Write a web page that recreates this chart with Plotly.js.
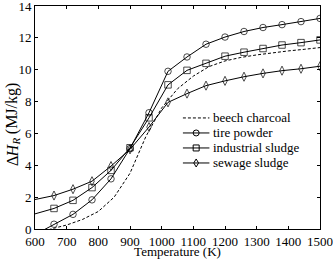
<!DOCTYPE html>
<html>
<head>
<meta charset="utf-8">
<script src="https://cdn.plot.ly/plotly-3.0.1.min.js"></script>
<style>html,body{margin:0;padding:0;background:#fff;}#chart{width:333px;height:259px;}</style>
</head>
<body>
<div id="chart"></div>
<script>
// Temperatures (K)
var tempBeech = [600, 650, 700, 750, 800, 850, 900, 950, 1000, 1050, 1100, 1150, 1200, 1250, 1300, 1350, 1400, 1450, 1500];
var beechCharcoal = [-0.45, 0.0, 0.25, 0.6, 1.1, 2.0, 3.5, 5.8, 7.6, 8.8, 9.6, 10.2, 10.55, 10.77, 10.93, 11.07, 11.18, 11.28, 11.39];

var tempMarked = [600, 660, 720, 780, 840, 900, 960, 1020, 1080, 1140, 1200, 1260, 1320, 1380, 1440, 1500];
var tirePowder = [-0.35, 0.3, 0.92, 1.83, 3.15, 5.05, 7.3, 9.9, 10.8, 11.6, 12.05, 12.4, 12.65, 12.83, 13.02, 13.22];
var industrialSludge = [0.95, 1.29, 1.8, 2.6, 3.68, 5.1, 6.98, 9.05, 9.96, 10.4, 10.85, 11.1, 11.33, 11.55, 11.7, 11.87];
var sewageSludge = [1.85, 2.1, 2.5, 3.0, 3.95, 5.0, 6.4, 7.95, 8.5, 9.0, 9.3, 9.56, 9.77, 9.94, 10.06, 10.22];

var seriesNames = ['beech charcoal', 'tire powder', 'industrial sludge', 'sewage sludge'];
var seriesSymbols = [null, 'circle', 'square', 'diamond'];
var xTicks = [600, 700, 800, 900, 1000, 1100, 1200, 1300, 1400, 1500];
var yTicks = [0, 2, 4, 6, 8, 10, 12, 14];

var FONT = 'Liberation Serif, Times New Roman, serif';
var FS = 13;

// no marker on the first (600 K) point
var markerSizes = tempMarked.map(function (t, i) { return i === 0 ? 0 : 6.5; });

function markedTrace(name, y, symbol) {
  return {
    x: tempMarked, y: y, name: name, type: 'scatter', mode: 'lines+markers',
    line: {color: '#000', width: 1},
    marker: {symbol: symbol, size: markerSizes, color: '#000', line: {color: '#000', width: 1}}
  };
}

var data = [
  {x: tempBeech, y: beechCharcoal, name: seriesNames[0], type: 'scatter', mode: 'lines',
   line: {color: '#000', width: 1, dash: '3px,2px'}},
  markedTrace(seriesNames[1], tirePowder, 'circle-open'),
  markedTrace(seriesNames[2], industrialSludge, 'square-open'),
  markedTrace(seriesNames[3], sewageSludge, 'diamond-tall-open')
];

// ---- hand-built legend (compact row spacing like the original) ----
var legX0 = 0.519, legX1 = 0.612, legMid = 0.5655, legText = 0.619;
var legTop = 0.498, legStep = 0.0673;
var shapes = [], annotations = [];
seriesNames.forEach(function (name, i) {
  var yy = legTop - i * legStep;
  shapes.push({type: 'line', xref: 'paper', yref: 'paper', x0: legX0, x1: legX1, y0: yy, y1: yy,
               line: {color: '#000', width: 1, dash: i === 0 ? '3px,2px' : 'solid'}});
  var sym = seriesSymbols[i];
  var base = {xref: 'paper', yref: 'paper', xsizemode: 'pixel', ysizemode: 'pixel',
              xanchor: legMid, yanchor: yy, line: {color: '#000', width: 1}, fillcolor: 'rgba(0,0,0,0)'};
  if (sym === 'circle') shapes.push(Object.assign({type: 'circle', x0: -3, x1: 3, y0: -3, y1: 3}, base));
  if (sym === 'square') shapes.push(Object.assign({type: 'rect', x0: -3, x1: 3, y0: -3, y1: 3}, base));
  if (sym === 'diamond') shapes.push(Object.assign({type: 'path', path: 'M0,4 L2.4,0 L0,-4 L-2.4,0 Z'}, base));
  annotations.push({xref: 'paper', yref: 'paper', x: legText, y: yy, xanchor: 'left', yanchor: 'middle',
                    text: name, showarrow: false, font: {family: FONT, size: FS, color: '#000'}});
});

// y-axis title "ΔH_R (MJ/kg)" built from rotated pieces (no markup tags)
var yTitleParts = [
  {text: 'Δ', y: 0.3045, x: -0.0807, size: 16, style: 'normal'},
  {text: 'H', y: 0.3525, x: -0.0807, size: 16, style: 'italic'},
  {text: 'R', y: 0.3933, x: -0.0660, size: 11, style: 'italic'},
  {text: '(MJ/kg)', y: 0.5417, x: -0.0807, size: 16, style: 'normal'}
];
yTitleParts.forEach(function (p) {
  annotations.push({xref: 'paper', yref: 'paper', x: p.x, y: p.y, xanchor: 'center', yanchor: 'middle',
                    textangle: -90, showarrow: false, text: p.text,
                    font: {family: FONT, size: p.size, color: '#000', style: p.style}});
});

var axisCommon = {
  showline: true, linecolor: '#000', linewidth: 1, mirror: 'ticks',
  ticks: 'inside', ticklen: 3, tickcolor: '#000', tickwidth: 1,
  showgrid: false, zeroline: false, ticklabeloverflow: 'allow',
  tickfont: {family: FONT, size: FS, color: '#000'}
};

var layout = {
  width: 333, height: 259,
  margin: {l: 35, r: 13, t: 6, b: 30},
  paper_bgcolor: '#fff', plot_bgcolor: '#fff',
  font: {family: FONT, size: FS, color: '#000'},
  showlegend: false,
  shapes: shapes,
  annotations: annotations,
  xaxis: Object.assign({}, axisCommon, {
    range: [600, 1500], tickvals: xTicks, ticktext: xTicks.map(String),
    title: {text: 'Temperature (K)', standoff: 1, font: {family: FONT, size: FS, color: '#000'}}
  }),
  yaxis: Object.assign({}, axisCommon, {
    range: [0, 14], tickvals: yTicks, ticktext: yTicks.map(String)
  })
};

Plotly.newPlot('chart', data, layout, {displayModeBar: false, staticPlot: true});
</script>
</body>
</html>
